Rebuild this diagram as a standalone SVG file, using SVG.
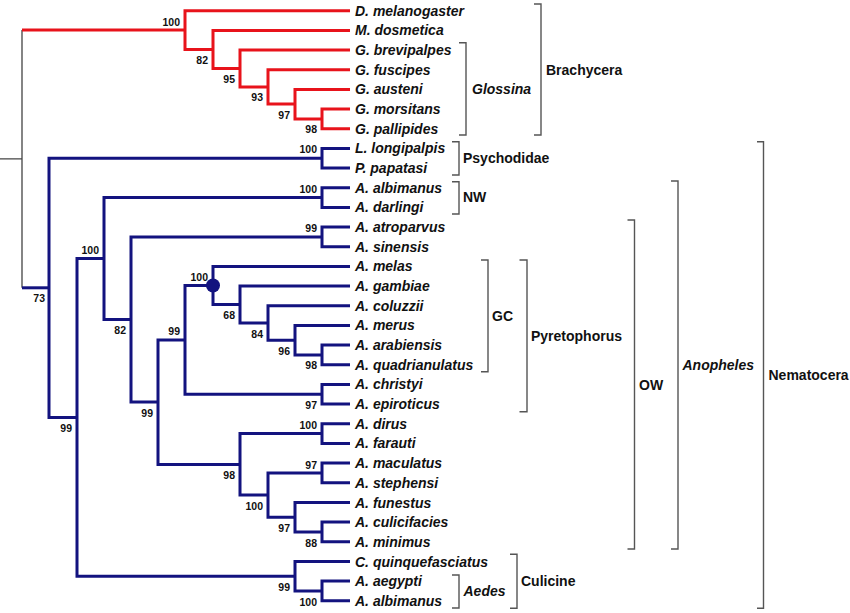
<svg xmlns="http://www.w3.org/2000/svg" width="850" height="613" viewBox="0 0 850 613">
<style>
.bg{fill:#ffffff}
.red{fill:none;stroke:#e8131b;stroke-width:3;stroke-linejoin:miter}
.blue{fill:none;stroke:#13137f;stroke-width:3;stroke-linejoin:miter}
.root{fill:none;stroke:#444444;stroke-width:1.3}
.br{fill:none;stroke:#555555;stroke-width:1.4}
.leaf{font-family:"Liberation Sans",Arial,sans-serif;font-size:14px;font-weight:bold;font-style:italic;fill:#111111}
.bs{font-family:"Liberation Sans",Arial,sans-serif;font-size:10.5px;font-weight:bold;fill:#111111;text-anchor:end}
.cl{font-family:"Liberation Sans",Arial,sans-serif;font-size:14px;font-weight:bold;fill:#111111}
.it{font-style:italic}
</style>
<rect class="bg" x="0" y="0" width="850" height="613"/>
<g id="connectors">
  <path class="root" d="M0,158.9 H22 M22,30.1 V287.8"/>
  <path class="red" d="M22,30.1 H185"/>
  <path class="red" d="M350,10.7 H185 V49.4 H213"/>
  <path class="red" d="M350,30.4 H213 V68.5 H240"/>
  <path class="red" d="M350,50.0 H240 V86.9 H268"/>
  <path class="red" d="M350,69.7 H268 V104.1 H295"/>
  <path class="red" d="M350,89.4 H295 V118.9 H322"/>
  <path class="red" d="M350,109.1 H322 V128.7 H350"/>
  <path class="blue" d="M22,287.8 H49"/>
  <path class="blue" d="M322,158.2 H49 V417.4 H77"/>
  <path class="blue" d="M350,148.4 H322 V168.1 H350"/>
  <path class="blue" d="M104,258.6 H77 V576.2 H295"/>
  <path class="blue" d="M322,197.6 H104 V319.5 H131"/>
  <path class="blue" d="M350,187.7 H322 V207.4 H350"/>
  <path class="blue" d="M322,236.9 H131 V402.1 H158"/>
  <path class="blue" d="M350,227.1 H322 V246.7 H350"/>
  <path class="blue" d="M185,339.9 H158 V464.4 H240"/>
  <path class="blue" d="M213,285.5 H185 V394.3 H322"/>
  <path class="blue" d="M350,266.4 H213 V304.5 H240"/>
  <path class="blue" d="M350,286.1 H240 V323.0 H268"/>
  <path class="blue" d="M350,305.8 H268 V340.2 H295"/>
  <path class="blue" d="M350,325.4 H295 V354.9 H322"/>
  <path class="blue" d="M350,345.1 H322 V364.8 H350"/>
  <path class="blue" d="M350,384.4 H322 V404.1 H350"/>
  <path class="blue" d="M322,433.6 H240 V495.1 H268"/>
  <path class="blue" d="M350,423.8 H322 V443.4 H350"/>
  <path class="blue" d="M322,473.0 H268 V517.2 H295"/>
  <path class="blue" d="M350,463.1 H322 V482.8 H350"/>
  <path class="blue" d="M350,502.5 H295 V532.0 H322"/>
  <path class="blue" d="M350,522.1 H322 V541.8 H350"/>
  <path class="blue" d="M350,561.5 H295 V591.0 H322"/>
  <path class="blue" d="M350,581.1 H322 V600.8 H350"/>
</g>
<g id="support">
  <text class="bs" x="180" y="25.6">100</text>
  <text class="bs" x="208" y="63.9">82</text>
  <text class="bs" x="235" y="83">95</text>
  <text class="bs" x="263" y="101.4">93</text>
  <text class="bs" x="290" y="118.6">97</text>
  <text class="bs" x="317" y="133.4">98</text>
  <text class="bs" x="45" y="302">73</text>
  <text class="bs" x="317" y="153.2">100</text>
  <text class="bs" x="72" y="431.9">99</text>
  <text class="bs" x="99" y="254.1">100</text>
  <text class="bs" x="317" y="193.1">100</text>
  <text class="bs" x="126" y="334">82</text>
  <text class="bs" x="317" y="232.4">99</text>
  <text class="bs" x="153" y="416.6">99</text>
  <text class="bs" x="180" y="335.4">99</text>
  <text class="bs" x="235" y="319">68</text>
  <text class="bs" x="263" y="337.5">84</text>
  <text class="bs" x="290" y="354.7">96</text>
  <text class="bs" x="317" y="369.4">98</text>
  <text class="bs" x="317" y="408.8">97</text>
  <text class="bs" x="235" y="478.9">98</text>
  <text class="bs" x="317" y="429.1">100</text>
  <text class="bs" x="263" y="509.6">100</text>
  <text class="bs" x="317" y="468.5">97</text>
  <text class="bs" x="290" y="531.7">97</text>
  <text class="bs" x="317" y="546.5">88</text>
  <text class="bs" x="290" y="590.7">99</text>
  <text class="bs" x="317" y="605.5">100</text>
</g>
<g id="node-gambiae-complex">
  <circle cx="213" cy="285.5" r="7" fill="#13137f"/>
  <text class="bs" x="208" y="281">100</text>
</g>
<g id="leaves">
  <g id="leaf-01"><text class="leaf" x="355" y="15.7">D. melanogaster</text></g>
  <g id="leaf-02"><text class="leaf" x="355" y="35.4">M. dosmetica</text></g>
  <g id="leaf-03"><text class="leaf" x="355" y="55">G. brevipalpes</text></g>
  <g id="leaf-04"><text class="leaf" x="355" y="74.7">G. fuscipes</text></g>
  <g id="leaf-05"><text class="leaf" x="355" y="94.4">G. austeni</text></g>
  <g id="leaf-06"><text class="leaf" x="355" y="114.1">G. morsitans</text></g>
  <g id="leaf-07"><text class="leaf" x="355" y="133.7">G. pallipides</text></g>
  <g id="leaf-08"><text class="leaf" x="355" y="153.4">L. longipalpis</text></g>
  <g id="leaf-09"><text class="leaf" x="355" y="173.1">P. papatasi</text></g>
  <g id="leaf-10"><text class="leaf" x="355" y="192.7">A. albimanus</text></g>
  <g id="leaf-11"><text class="leaf" x="355" y="212.4">A. darlingi</text></g>
  <g id="leaf-12"><text class="leaf" x="355" y="232.1">A. atroparvus</text></g>
  <g id="leaf-13"><text class="leaf" x="355" y="251.7">A. sinensis</text></g>
  <g id="leaf-14"><text class="leaf" x="355" y="271.4">A. melas</text></g>
  <g id="leaf-15"><text class="leaf" x="355" y="291.1">A. gambiae</text></g>
  <g id="leaf-16"><text class="leaf" x="355" y="310.8">A. coluzzii</text></g>
  <g id="leaf-17"><text class="leaf" x="355" y="330.4">A. merus</text></g>
  <g id="leaf-18"><text class="leaf" x="355" y="350.1">A. arabiensis</text></g>
  <g id="leaf-19"><text class="leaf" x="355" y="369.8">A. quadrianulatus</text></g>
  <g id="leaf-20"><text class="leaf" x="355" y="389.4">A. christyi</text></g>
  <g id="leaf-21"><text class="leaf" x="355" y="409.1">A. epiroticus</text></g>
  <g id="leaf-22"><text class="leaf" x="355" y="428.8">A. dirus</text></g>
  <g id="leaf-23"><text class="leaf" x="355" y="448.4">A. farauti</text></g>
  <g id="leaf-24"><text class="leaf" x="355" y="468.1">A. maculatus</text></g>
  <g id="leaf-25"><text class="leaf" x="355" y="487.8">A. stephensi</text></g>
  <g id="leaf-26"><text class="leaf" x="355" y="507.5">A. funestus</text></g>
  <g id="leaf-27"><text class="leaf" x="355" y="527.1">A. culicifacies</text></g>
  <g id="leaf-28"><text class="leaf" x="355" y="546.8">A. minimus</text></g>
  <g id="leaf-29"><text class="leaf" x="355" y="566.5">C. quinquefasciatus</text></g>
  <g id="leaf-30"><text class="leaf" x="355" y="586.1">A. aegypti</text></g>
  <g id="leaf-31"><text class="leaf" x="355" y="605.8">A. albimanus</text></g>
</g>
<g id="clades">
  <g id="clade-brachycera"><path class="br" d="M534,4 H541 V135 H534"/><text class="cl" x="546" y="74.5">Brachycera</text></g>
  <g id="clade-glossina"><path class="br" d="M459,42.7 H466 V135 H459"/><text class="cl it" x="472" y="94">Glossina</text></g>
  <g id="clade-psychodidae"><path class="br" d="M452,141.7 H459 V175 H452"/><text class="cl" x="463" y="163">Psychodidae</text></g>
  <g id="clade-nw"><path class="br" d="M452,181.7 H459 V214 H452"/><text class="cl" x="463" y="202">NW</text></g>
  <g id="clade-gc"><path class="br" d="M481,260 H488 V371.7 H481"/><text class="cl" x="492" y="321">GC</text></g>
  <g id="clade-pyretophorus"><path class="br" d="M519.5,260 H527 V411.7 H519.5"/><text class="cl" x="531" y="341">Pyretophorus</text></g>
  <g id="clade-ow"><path class="br" d="M627.5,220 H634.5 V549 H627.5"/><text class="cl" x="639" y="389.5">OW</text></g>
  <g id="clade-anopheles"><path class="br" d="M671,181 H678 V549 H671"/><text class="cl it" x="682.5" y="370">Anopheles</text></g>
  <g id="clade-nematocera"><path class="br" d="M757,141.7 H763.5 V608.3 H757"/><text class="cl" x="768.5" y="379.5">Nematocera</text></g>
  <g id="clade-culicine"><path class="br" d="M510,554.3 H517 V608.3 H510"/><text class="cl" x="521" y="586">Culicine</text></g>
  <g id="clade-aedes"><path class="br" d="M452,575 H459 V608 H452"/><text class="cl it" x="463.5" y="596">Aedes</text></g>
</g>
</svg>
